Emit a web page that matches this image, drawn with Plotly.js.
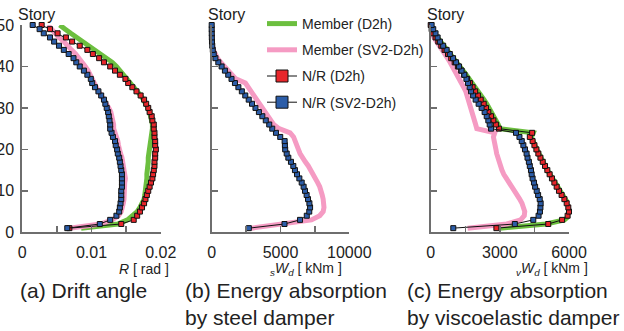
<!DOCTYPE html>
<html>
<head>
<meta charset="utf-8">
<script src="https://cdn.plot.ly/plotly-3.0.1.min.js"></script>
<style>html,body{margin:0;padding:0;background:#fff;}#chart{width:624px;height:331px;}</style>
</head>
<body>
<div id="chart"></div>
<script>
// ---- data (story 1 .. 50) ----
const stories = [1,2,3,4,5,6,7,8,9,10,11,12,13,14,15,16,17,18,19,20,21,22,23,24,25,26,27,28,29,30,31,32,33,34,35,36,37,38,39,40,41,42,43,44,45,46,47,48,49,50];

const seriesNames = ['Member (D2h)', 'Member (SV2-D2h)', 'N/R (D2h)', 'N/R (SV2-D2h)'];

// (a) drift angle R [rad]
const driftMemberD2h = [0.0085,0.0138,0.0152,0.0160,0.0166,0.0170,0.0174,0.0176,0.0177,0.0178,0.0179,0.0179,0.0180,0.0180,0.0181,0.0181,0.0182,0.0182,0.0183,0.0183,0.0184,0.0185,0.0186,0.0187,0.0188,0.0188,0.0187,0.0186,0.0184,0.0182,0.0179,0.0175,0.0171,0.0166,0.0162,0.0158,0.0153,0.0148,0.0143,0.0136,0.0130,0.0121,0.0115,0.0106,0.0097,0.0088,0.0078,0.0070,0.0062,0.0054];
const driftMemberSV2 = [0.0068,0.0113,0.0130,0.0139,0.0143,0.0145,0.0146,0.0147,0.0147,0.0148,0.0148,0.0148,0.0149,0.0148,0.0148,0.0147,0.0145,0.0144,0.0142,0.0140,0.0139,0.0138,0.0136,0.0134,0.0132,0.0132,0.0131,0.0130,0.0128,0.0125,0.0122,0.0118,0.0114,0.0110,0.0107,0.0105,0.0103,0.0099,0.0095,0.0091,0.0087,0.0082,0.0077,0.0071,0.0066,0.0060,0.0053,0.0047,0.0042,0.0037];
const driftNRD2h = [0.0068,0.0143,0.0161,0.0166,0.0170,0.0173,0.0176,0.0178,0.0180,0.0182,0.0184,0.0186,0.0188,0.0189,0.0190,0.0191,0.0191,0.0192,0.0192,0.0193,0.0192,0.0192,0.0191,0.0191,0.0190,0.0190,0.0188,0.0187,0.0184,0.0182,0.0179,0.0176,0.0171,0.0165,0.0159,0.0153,0.0149,0.0141,0.0134,0.0127,0.0118,0.0111,0.0102,0.0094,0.0083,0.0072,0.0063,0.0051,0.0040,0.0028];
const driftNRSV2 = [0.0065,0.0112,0.0127,0.0136,0.0140,0.0141,0.0142,0.0143,0.0143,0.0143,0.0144,0.0144,0.0144,0.0144,0.0143,0.0142,0.0141,0.0140,0.0138,0.0137,0.0135,0.0134,0.0131,0.0129,0.0127,0.0127,0.0126,0.0125,0.0124,0.0122,0.0120,0.0118,0.0114,0.0110,0.0105,0.0101,0.0099,0.0094,0.0089,0.0083,0.0078,0.0074,0.0067,0.0060,0.0053,0.0046,0.0040,0.0031,0.0025,0.0015];

// (b) energy absorption by steel damper sWd [kNm]
const steelMemberSV2 = [2900,5300,7250,7850,8100,8160,8150,8100,8030,7970,7850,7700,7530,7450,7250,7020,6800,6580,6420,6300,6170,6050,5950,5700,4900,4500,4300,4100,3900,3700,3500,3300,3100,2850,2650,2450,1750,1450,1150,900,650,420,250,120,50,20,0,0,0,0];
const steelNRSV2 = [2700,5290,6420,6910,7090,7150,7100,7000,6900,6780,6680,6540,6370,6200,6050,5930,5760,5570,5450,5340,5320,5300,4980,4670,4400,4180,3930,3680,3430,3180,2930,2690,2440,2190,1940,1690,1440,1200,960,720,480,270,150,80,40,20,10,5,0,0];

// (c) energy absorption by viscoelastic damper vWd [kNm]
const viscoMemberD2h = [3000,5000,5800,6020,6050,6020,5950,5840,5720,5600,5480,5370,5260,5160,5060,4960,4860,4760,4680,4600,4520,4440,4370,4450,3000,2930,2840,2740,2640,2540,2430,2310,2190,2070,1940,1810,1680,1540,1400,1260,1110,950,800,650,510,380,260,150,60,0];
const viscoMemberSV2 = [1600,3300,3900,4060,4080,4040,3960,3860,3740,3620,3500,3380,3270,3170,3090,3020,2960,2900,2860,2830,2800,2750,2720,2780,2000,1950,1900,1860,1820,1770,1720,1660,1590,1520,1430,1340,1250,1160,1060,950,840,730,600,470,350,240,140,60,20,0];
const viscoNRD2h = [2850,5100,5700,5940,6000,5970,5900,5800,5680,5565,5465,5365,5260,5160,5060,4960,4860,4760,4670,4585,4500,4420,4300,4400,2960,2830,2720,2620,2500,2400,2300,2170,2050,1930,1820,1700,1580,1450,1320,1180,1040,890,750,600,460,330,210,110,40,0];
const viscoNRSV2 = [980,3650,4450,4680,4740,4760,4770,4730,4660,4600,4530,4480,4420,4380,4350,4300,4260,4200,4160,4090,4020,3950,3850,3700,2620,2560,2500,2430,2340,2210,2080,1950,1840,1750,1690,1620,1550,1460,1340,1230,1100,970,830,690,540,400,300,210,110,40];

// axis ticks / labels
const yTicks = [0,10,20,30,40,50];
const xTicksA = [0,0.005,0.01,0.015,0.02];
const xLabelsA = ['0','','0.01','','0.02'];
const xTicksB = [0,2500,5000,7500,10000];
const xLabelsB = ['0','','5000','','10000'];
const xTicksC = [0,1500,3000,4500,6000];
const xLabelsC = ['0','','3000','','6000'];
const captions = ['(a) Drift angle','(b) Energy absorption<br>by steel damper','(c) Energy absorption<br>by viscoelastic damper'];
const xTitles = ['<i>R</i> [ rad ]','<sub><i>s</i></sub><i>W</i><sub><i>d</i></sub> [ kNm ]','<sub><i>v</i></sub><i>W</i><sub><i>d</i></sub> [ kNm ]'];

// ---- styling ----
const GREEN = '#6cbf3f', PINK = '#f59bc3', RED = '#e8262b', BLUE = '#2c5da8';
const W = 624, H = 331;
const fx = p => p / W, fy = p => 1 - p / H;

function member(x, color, xa, ya){
  return {x:x, y:stories, xaxis:xa, yaxis:ya, type:'scatter', mode:'lines',
    line:{color:color, width:5}, showlegend:false, cliponaxis:false, hoverinfo:'skip'};
}
function nr(x, color, xa, ya){
  return {x:x, y:stories, xaxis:xa, yaxis:ya, type:'scatter', mode:'lines+markers',
    line:{color:'#111', width:1}, marker:{symbol:'square', size:5, color:color, line:{color:'#111', width:1}},
    showlegend:false, cliponaxis:false, hoverinfo:'skip'};
}
function legendItem(name, kind, color, grp){
  const t = {x:[null], y:[null], xaxis:'x2', yaxis:'y2', type:'scatter', name:name, showlegend:true,
    legendgroup:grp, hoverinfo:'skip'};
  if(kind === 'line'){ t.mode = 'lines'; t.line = {color:color, width:5}; }
  else { t.mode = 'lines+markers'; t.line = {color:'#111', width:1};
    t.marker = {symbol:'square', size:12, color:color, line:{color:'#111', width:1}}; }
  return t;
}

const data = [
  member(driftMemberD2h, GREEN, 'x', 'y'),
  member(driftMemberSV2, PINK, 'x', 'y'),
  nr(driftNRD2h, RED, 'x', 'y'),
  nr(driftNRSV2, BLUE, 'x', 'y'),
  member(steelMemberSV2, PINK, 'x2', 'y2'),
  nr(steelNRSV2, BLUE, 'x2', 'y2'),
  member(viscoMemberD2h, GREEN, 'x3', 'y3'),
  member(viscoMemberSV2, PINK, 'x3', 'y3'),
  nr(viscoNRD2h, RED, 'x3', 'y3'),
  nr(viscoNRSV2, BLUE, 'x3', 'y3'),
  legendItem(seriesNames[0], 'line', GREEN, 'g1'),
  legendItem(seriesNames[1], 'line', PINK, 'g2'),
  legendItem(seriesNames[2], 'marker', RED, 'g3'),
  legendItem(seriesNames[3], 'marker', BLUE, 'g4')
];

const AX = '#6e6e6e';
function xAxis(domain, range, ticks, labels, anchor){
  return {domain:domain, range:range, anchor:anchor, showline:true, linecolor:AX, linewidth:2,
    ticks:'inside', ticklen:6, tickwidth:1.5, tickcolor:AX, tickvals:ticks, ticktext:labels,
    showgrid:false, zeroline:false, fixedrange:true, tickfont:{size:16, color:'#222'}, ticklabelstandoff:4};
}
function yAxis(labels, anchor){
  return {domain:[fy(232.3), fy(25)], range:[0,50], anchor:anchor, showline:true, linecolor:AX, linewidth:2,
    ticks:'inside', ticklen:6, tickwidth:1.5, tickcolor:AX, tickvals:yTicks, showticklabels:labels,
    showgrid:false, zeroline:false, fixedrange:true, tickfont:{size:16, color:'#222'}, ticklabelstandoff:3};
}

const ann = [];
const axisLeft = [22.3, 211.7, 430.7];
axisLeft.forEach(xl => ann.push({text:'Story', xref:'paper', yref:'paper', x:fx(xl-6), y:fy(15),
  xanchor:'left', yanchor:'middle', showarrow:false, font:{size:16, color:'#222'}}));
const titleRight = [171, 344, 590];
titleRight.forEach((xr,i) => ann.push({text:xTitles[i], xref:'paper', yref:'paper', x:fx(xr), y:fy(269),
  xanchor:'right', yanchor:'middle', showarrow:false, font:{size:14, color:'#222'}}));
const capLeft = [18, 183, 405];
capLeft.forEach((xl,i) => ann.push({text:captions[i], xref:'paper', yref:'paper', x:fx(xl), y:fy(277),
  xanchor:'left', yanchor:'top', align:'left', showarrow:false, font:{size:21, color:'#222'}}));

const layout = {
  width:W, height:H, margin:{l:0, r:0, t:0, b:0},
  paper_bgcolor:'#fff', plot_bgcolor:'rgba(0,0,0,0)',
  font:{family:'"Liberation Sans", Arial, sans-serif', size:16, color:'#222'},
  showlegend:true,
  legend:{x:fx(262), y:fy(8), xanchor:'left', yanchor:'top', bgcolor:'rgba(0,0,0,0)',
    font:{size:14, color:'#222'}, traceorder:'grouped', tracegroupgap:5,
    itemclick:false, itemdoubleclick:false},
  xaxis: xAxis([fx(22.3), fx(160.7)], [0,0.02], xTicksA, xLabelsA, 'y'),
  yaxis: yAxis(true, 'x'),
  xaxis2: xAxis([fx(211.7), fx(349.3)], [0,10000], xTicksB, xLabelsB, 'y2'),
  yaxis2: yAxis(false, 'x2'),
  xaxis3: xAxis([fx(430.7), fx(569)], [0,6000], xTicksC, xLabelsC, 'y3'),
  yaxis3: yAxis(false, 'x3'),
  annotations: ann
};

Plotly.newPlot('chart', data, layout, {staticPlot:true, displayModeBar:false});
</script>
</body>
</html>
